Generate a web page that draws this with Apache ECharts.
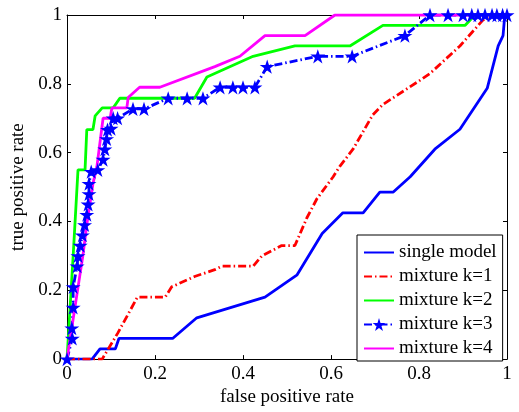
<!DOCTYPE html>
<html>
<head>
<meta charset="utf-8">
<script src="https://cdn.jsdelivr.net/npm/echarts@6/dist/echarts.min.js"></script>
<style>
html,body{margin:0;padding:0;background:#fff;}
#chart{width:519px;height:412px;}
</style>
</head>
<body>
<div id="chart"></div>
<script>
// Axis ticks
var xTicks = [0, 0.2, 0.4, 0.6, 0.8, 1];
var yTicks = [0, 0.2, 0.4, 0.6, 0.8, 1];
var seriesNames = ['single model', 'mixture k=1', 'mixture k=2', 'mixture k=3', 'mixture k=4'];

// ROC points [false positive rate, true positive rate]
var singleModel = [[0,0],[0.057,0],[0.075,0.03],[0.11,0.03],[0.118,0.06],[0.24,0.06],[0.295,0.12],[0.45,0.18],[0.523,0.245],[0.58,0.365],[0.627,0.425],[0.673,0.425],[0.711,0.485],[0.741,0.485],[0.78,0.53],[0.836,0.61],[0.893,0.668],[0.955,0.787],[0.98,0.91],[0.991,0.94],[0.995,1],[1,1]];
var mixtureK1 = [[0,0],[0.08,0],[0.116,0.077],[0.16,0.18],[0.223,0.18],[0.238,0.21],[0.29,0.24],[0.336,0.26],[0.352,0.27],[0.423,0.27],[0.443,0.30],[0.488,0.33],[0.518,0.33],[0.545,0.41],[0.568,0.466],[0.605,0.53],[0.62,0.56],[0.65,0.61],[0.695,0.71],[0.718,0.74],[0.802,0.81],[0.825,0.83],[0.893,0.91],[0.945,0.985],[0.966,1],[1,1]];
var mixtureK2 = [[0,0],[0.007,0.15],[0.014,0.30],[0.025,0.55],[0.041,0.55],[0.045,0.667],[0.059,0.667],[0.064,0.707],[0.08,0.73],[0.105,0.73],[0.12,0.758],[0.29,0.758],[0.318,0.82],[0.423,0.88],[0.518,0.91],[0.643,0.91],[0.718,0.97],[0.905,0.97],[0.927,1],[1,1]];
var mixtureK3 = [[0,0],[0.012,0.06],[0.011,0.09],[0.014,0.15],[0.014,0.21],[0.023,0.27],[0.025,0.30],[0.03,0.33],[0.035,0.36],[0.04,0.39],[0.045,0.42],[0.048,0.45],[0.05,0.48],[0.05,0.51],[0.055,0.545],[0.07,0.55],[0.082,0.58],[0.086,0.61],[0.09,0.64],[0.092,0.667],[0.1,0.67],[0.105,0.70],[0.115,0.70],[0.15,0.727],[0.175,0.727],[0.23,0.758],[0.273,0.758],[0.309,0.758],[0.348,0.79],[0.377,0.79],[0.40,0.79],[0.427,0.79],[0.455,0.85],[0.57,0.88],[0.648,0.88],[0.768,0.94],[0.825,1],[0.866,1],[0.9,1],[0.92,1],[0.934,1],[0.95,1],[0.966,1],[0.977,1],[0.99,1],[1,1]];
var mixtureK4 = [[0,0],[0.036,0.30],[0.045,0.39],[0.059,0.51],[0.068,0.56],[0.082,0.70],[0.098,0.70],[0.102,0.73],[0.136,0.73],[0.139,0.76],[0.165,0.79],[0.211,0.79],[0.336,0.85],[0.393,0.88],[0.45,0.94],[0.541,0.94],[0.609,1],[1,1]];

var FONT = '"Liberation Serif", "Times New Roman", serif';
var STAR = 'path://M100,0 L122.45,69.1 L195.1,69.1 L136.3,111.8 L158.8,180.9 L100,138.2 L41.2,180.9 L63.7,111.8 L4.9,69.1 L77.55,69.1 Z';
var DASHDOT = [8, 3, 1.5, 3];

var chart = echarts.init(document.getElementById('chart'), null, {renderer: 'canvas'});

function valAxis(pos, showLabels, name, ticks) {
  var ax = {
    type: 'value', position: pos, min: ticks[0], max: ticks[ticks.length - 1], interval: 0.2,
    splitLine: {show: false},
    axisLine: {show: true, onZero: false, lineStyle: {color: '#000', width: 1}},
    axisTick: {show: true, inside: true, length: 4, lineStyle: {color: '#000', width: 1}},
    axisLabel: {show: showLabels, color: '#000', fontFamily: FONT, fontSize: 19, margin: 5}
  };
  if (name) {
    ax.name = name;
    ax.nameLocation = 'middle';
    ax.nameTextStyle = {color: '#000', fontFamily: FONT, fontSize: 19};
  }
  return ax;
}

var xBottom = valAxis('bottom', true, 'false positive rate', xTicks);
xBottom.nameGap = 22;
var yLeft = valAxis('left', true, 'true positive rate', yTicks);
yLeft.nameGap = 33;

function lineSeries(name, data, color, type, withStar) {
  return {
    name: name, type: 'line', data: data,
    xAxisIndex: 0, yAxisIndex: 0,
    symbol: withStar ? STAR : 'none',
    symbolSize: withStar ? 15 : 0,
    symbolKeepAspect: true,
    showSymbol: !!withStar,
    itemStyle: {color: color},
    lineStyle: {color: color, width: 2.8, type: type},
    animation: false
  };
}

var legendData = seriesNames.map(function (n, i) {
  return i === 3 ? {name: n} : {name: n, itemStyle: {opacity: 0}};
});

chart.setOption({
  animation: false,
  backgroundColor: '#fff',
  grid: {left: 67, right: 12, top: 15, bottom: 45},
  xAxis: [xBottom, valAxis('top', false, null, xTicks)],
  yAxis: [yLeft, valAxis('right', false, null, yTicks)],
  legend: {
    data: legendData,
    orient: 'vertical', left: 357, top: 235,
    backgroundColor: '#fff', borderColor: '#000', borderWidth: 1,
    padding: [8, 6, 3, 6],
    itemWidth: 30, itemHeight: 16, itemGap: 5,
    textStyle: {color: '#000', fontFamily: FONT, fontSize: 19},
    z: 10
  },
  series: [
    lineSeries(seriesNames[0], singleModel, '#0000ff', 'solid', false),
    lineSeries(seriesNames[1], mixtureK1, '#ff0000', DASHDOT, false),
    lineSeries(seriesNames[2], mixtureK2, '#00ff00', 'solid', false),
    lineSeries(seriesNames[3], mixtureK3, '#0000ff', DASHDOT, true),
    lineSeries(seriesNames[4], mixtureK4, '#ff00ff', 'solid', false)
  ]
});
</script>
</body>
</html>
